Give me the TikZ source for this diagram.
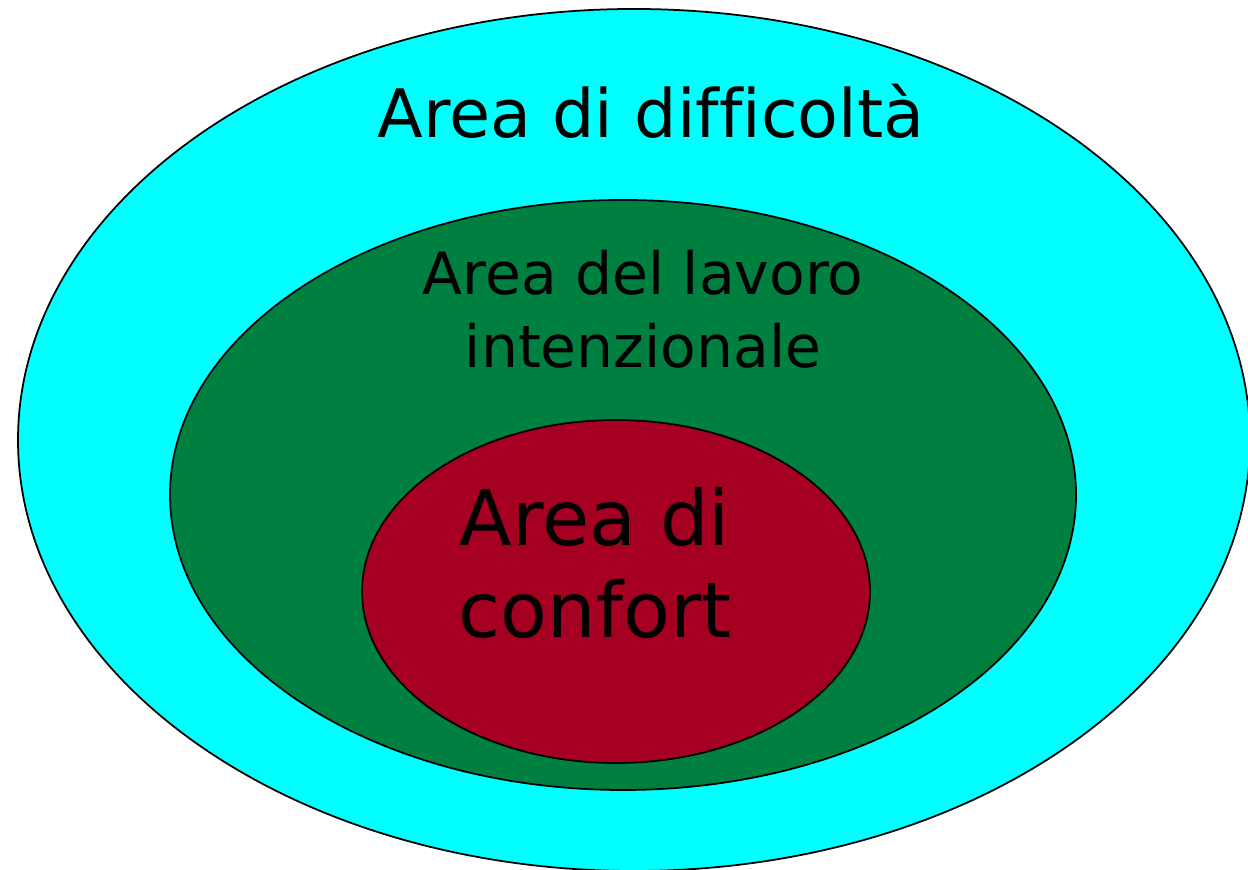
\documentclass[tikz,border=0pt]{standalone}
\usepackage{fontspec}
\setmainfont{DejaVu Sans}[Ligatures=CommonOff]
\usepackage{tikz}
\usetikzlibrary{calc}
\definecolor{areacyan}{RGB}{0,255,255}
\definecolor{areagreen}{RGB}{0,128,64}
\definecolor{areared}{RGB}{165,0,33}
\tikzset{
  zone/.style={draw=black,line width=0.5pt},
  label/.style={align=center,text=black}
}

\begin{document}
\begin{tikzpicture}
        \useasboundingbox (0,0) rectangle (12.48,8.70);
        \draw[zone,fill=areacyan]  (6.34,4.30) ellipse (6.16 and 4.31);
        \draw[zone,fill=areagreen] (6.23,3.75) ellipse (4.53 and 2.95);
        \draw[zone,fill=areared]   (6.16,2.785) ellipse (2.54 and 1.715);
        \node[label,anchor=base,font={\fontsize{19}{23}\selectfont}] (difficolta) at (6.51,7.32) {Area di difficoltà};
        \node[label,font={\fontsize{16.6}{20.8}\selectfont}] (lavoro) at (6.43,5.61) {Area del lavoro\\intenzionale};
        \node[label,font={\fontsize{21.8}{26.2}\selectfont}] (confort) at (5.95,3.075) {Area di\\confort};
    \end{tikzpicture}
\end{document}
